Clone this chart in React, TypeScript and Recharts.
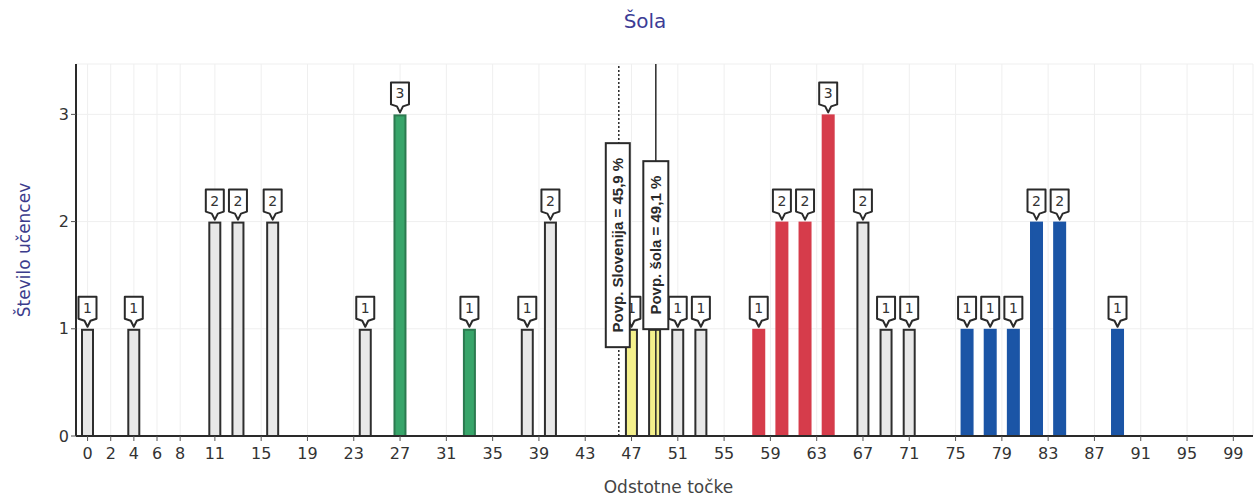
import React from 'react';
import { BarChart, Bar, XAxis, YAxis, CartesianGrid, ReferenceLine } from 'recharts';

const scores = [0, 4, 11, 13, 16, 24, 27, 33, 38, 40, 47, 49, 51, 53, 58, 60, 62, 64, 67, 69, 71, 76, 78, 80, 82, 84, 89];
const counts = [1, 1, 2, 2, 2, 1, 3, 1, 1, 2, 1, 1, 1, 1, 1, 2, 2, 3, 2, 1, 1, 1, 1, 1, 2, 2, 1];
const groups = ['gray', 'gray', 'gray', 'gray', 'gray', 'gray', 'green', 'green', 'gray', 'gray', 'yellow', 'yellow', 'gray', 'gray', 'red', 'red', 'red', 'red', 'gray', 'gray', 'gray', 'blue', 'blue', 'blue', 'blue', 'blue', 'blue'];
const xTicks = [0, 2, 4, 6, 8, 11, 15, 19, 23, 27, 31, 35, 39, 43, 47, 51, 55, 59, 63, 67, 71, 75, 79, 83, 87, 91, 95, 99];
const yTicks = [0, 1, 2, 3];
const avgSlovenia = 45.9;
const avgSchool = 49.1;
const avgSloveniaLabel = 'Povp. Slovenija = 45,9 %';
const avgSchoolLabel = 'Povp. šola = 49,1 %';

const fills: Record<string, string> = {
  gray: '#e8e8e8',
  green: '#38a56a',
  yellow: '#f4f08c',
  red: '#d63c4b',
  blue: '#1b55a6',
};
const strokes: Record<string, string> = {
  gray: '#2e2e2e',
  green: '#2c7a50',
  yellow: '#2e2e2e',
  red: '#d63c4b',
  blue: '#1b55a6',
};

const data = scores.map((s, i) => ({ score: s, count: counts[i], group: groups[i] }));

const BarWithCallout = (props: any) => {
  const { x, y, width, height, payload } = props;
  const g = payload.group;
  const cx = x + width / 2;
  const tip = y - 2;
  const bh = 22;
  const bw = 18;
  const b = tip - 8;
  const t = b - bh;
  const l = cx - bw / 2;
  const r = cx + bw / 2;
  const d = `M${l},${t} H${r} V${b} L${cx + 3},${b + 2} L${cx},${tip} L${cx - 3},${b + 2} L${l},${b} Z`;
  return (
    <g>
      <rect x={x + 1} y={y + 1} width={width - 2} height={height - 1} fill={fills[g]} stroke={strokes[g]} strokeWidth={2} />
      <path d={d} fill="#fff" stroke="#2a2a2a" strokeWidth={2} strokeLinejoin="round" />
      <text x={cx} y={t + bh / 2 + 5} textAnchor="middle" fontSize={14} fill="#333" fontFamily="DejaVu Sans, sans-serif">
        {payload.count}
      </text>
    </g>
  );
};

const makeRefLabel = (text: string, boxW: number, boxH: number, dx: number) => (props: any) => {
  const vb = props.viewBox || {};
  const cx = vb.x + dx;
  const cy = vb.y + vb.height * 0.487;
  return (
    <g>
      <rect x={cx - boxW / 2} y={cy - boxH / 2} width={boxW} height={boxH} fill="#fff" stroke="#2a2a2a" strokeWidth={2} />
      <text
        x={cx}
        y={cy}
        transform={`rotate(-90 ${cx} ${cy})`}
        textAnchor="middle"
        dominantBaseline="central"
        fontSize={15}
        fontWeight="bold"
        fill="#2a2a2a"
        fontFamily="Liberation Sans Narrow, Liberation Sans, Arial, sans-serif"
      >
        {text}
      </text>
    </g>
  );
};

export default function App() {
  return (
    <div style={{ position: 'absolute', left: 0, top: 0, width: 1259, height: 497, background: '#fff' }}>
      <div
        style={{
          position: 'absolute',
          left: 545,
          width: 200,
          top: 9,
          textAlign: 'center',
          fontFamily: 'DejaVu Sans, sans-serif',
          fontSize: 20,
          color: '#3c3c96',
        }}
      >
        Šola
      </div>
      <BarChart
        width={1259}
        height={497}
        data={data}
        margin={{ top: 64, right: 6, bottom: 2, left: 36 }}
        barSize={13}
      >
        <CartesianGrid stroke="#efefef" strokeWidth={1} />
        <XAxis
          dataKey="score"
          type="number"
          domain={[-1, 100.7]}
          ticks={xTicks}
          interval={0}
          height={59}
          tick={{ fontSize: 16, fill: '#333', fontFamily: 'DejaVu Sans, sans-serif' }}
          tickSize={5}
          tickMargin={7}
          tickLine={{ stroke: '#555' }}
          axisLine={{ stroke: '#2a2a2a', strokeWidth: 2 }}
          allowDataOverflow
          label={{ value: 'Odstotne točke', position: 'insideBottom', offset: 2, fontSize: 17, fill: '#444', fontFamily: 'DejaVu Sans, sans-serif', dx: 4 }}
        />
        <XAxis xAxisId="top" orientation="top" type="number" domain={[-1, 100.7]} height={0} tick={false} tickLine={false} axisLine={{ stroke: '#2a2a2a', strokeWidth: 2 }} />
        <YAxis
          type="number"
          domain={[0, 3.47]}
          ticks={yTicks}
          allowDataOverflow
          width={40}
          tick={{ fontSize: 16, fill: '#333', fontFamily: 'DejaVu Sans, sans-serif' }}
          tickSize={5}
          tickLine={{ stroke: '#555' }}
          axisLine={{ stroke: '#2a2a2a', strokeWidth: 2 }}
          label={{ value: 'Število učencev', angle: -90, position: 'insideLeft', offset: -12, fontSize: 17, fill: '#3c3c8c', fontFamily: 'DejaVu Sans, sans-serif', style: { textAnchor: 'middle' } }}
        />
        <YAxis yAxisId="right" orientation="right" width={0} tick={false} tickLine={false} axisLine={{ stroke: '#2a2a2a', strokeWidth: 2 }} />
        <Bar dataKey="count" isAnimationActive={false} shape={BarWithCallout} />
        <ReferenceLine
          x={avgSlovenia}
          stroke="#2a2a2a"
          strokeWidth={1.5}
          strokeDasharray="2 2"
          label={makeRefLabel(avgSloveniaLabel, 24, 204, -1)}
        />
        <ReferenceLine
          x={avgSchool}
          stroke="#2a2a2a"
          strokeWidth={1.5}
          label={makeRefLabel(avgSchoolLabel, 25, 168, 0)}
        />
      </BarChart>
    </div>
  );
}
